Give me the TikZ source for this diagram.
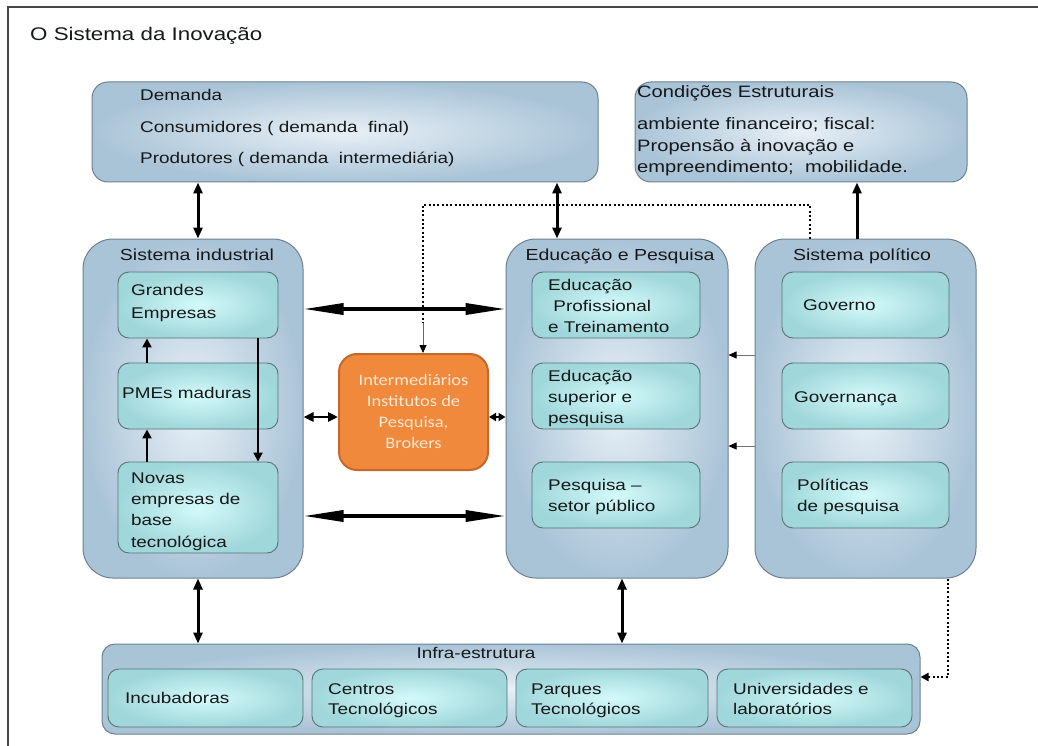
\documentclass[tikz,border=0pt]{standalone}
\usepackage{fontspec}
\usetikzlibrary{arrows.meta}
\newfontfamily\arw[FakeStretch=1.22]{Liberation Sans}
\newfontfamily\calw[FakeStretch=1.15]{Carlito}
\newcommand\fz[2]{\fontsize{#1}{#2}\selectfont}
\definecolor{bgout}{RGB}{170,196,215}
\definecolor{bgin}{RGB}{232,240,246}
\definecolor{bord}{RGB}{108,128,146}
\definecolor{tout}{RGB}{160,215,218}
\definecolor{tin}{RGB}{212,250,250}
\definecolor{tbord}{RGB}{88,115,118}
\definecolor{ofill}{RGB}{240,137,60}
\definecolor{obord}{RGB}{196,104,44}
\definecolor{otext}{RGB}{253,232,212}
\definecolor{ink}{RGB}{22,24,26}
\definecolor{frame}{RGB}{70,70,70}
\begin{document}
\begin{tikzpicture}[x=1pt,y=-1pt,
  big/.style={draw=bord, line width=1pt, inner color=bgin, outer color=bgout, inner sep=0pt, rounded corners=30pt},
  bigsm/.style={draw=bord, line width=1pt, inner color=bgin, outer color=bgout, inner sep=0pt, rounded corners=16pt},
  inn/.style={draw=tbord, line width=0.9pt, inner color=tin, outer color=tout, inner sep=0pt, rounded corners=11pt},
  orng/.style={draw=obord, line width=2pt, fill=ofill, rounded corners=18pt, inner sep=0pt,
    text=otext, align=center, font=\calw\fz{16}{21}},
  lbl/.style={inner sep=0pt, align=left, text=ink, anchor=base west, font=\arw\fz{15.5}{21}},
  ttl/.style={inner sep=0pt, text=ink, anchor=base, font=\arw\fz{16}{19}},
  dbl/.style={line width=3pt, {Triangle[length=11pt,width=9pt]}-{Triangle[length=11pt,width=9pt]}},
  longdbl/.style={line width=3.5pt, {Triangle[length=40pt,width=11pt]}-{Triangle[length=40pt,width=11pt]}},
  shortdbl/.style={line width=2.5pt, {Triangle[length=10pt,width=9pt]}-{Triangle[length=10pt,width=9pt]}},
  tinydbl/.style={line width=2.5pt, {Triangle[length=7pt,width=8pt]}-{Triangle[length=7pt,width=8pt]}},
  uparr/.style={line width=2.5pt, -{Triangle[length=9pt,width=9pt]}},
  downarr/.style={line width=2pt, -{Triangle[length=9pt,width=9pt]}},
  thinarr/.style={draw=black!55, line width=0.8pt, -{Triangle[length=8pt,width=7pt,color=black]}},
  dots/.style={line width=2pt, dash pattern=on 2pt off 2.3pt}
]
\useasboundingbox (0,0) rectangle (1038,746);
\fill[white] (0,0) rectangle (1038,746);
\draw[line width=2pt, draw=frame] (8,746) -- (8,7) -- (1038,7);

\node[lbl, font=\arw\fz{18.3}{22}] (title) at (30,41) {O Sistema da Inovação};

% top boxes (base anchor = baseline of the last line)
\node[bigsm, minimum width=506pt, minimum height=100pt] (dem) at (345,132) {};
\node[lbl, font=\arw\fz{15.5}{31.5}] (demt) at (140,164) {Demanda\\Consumidores ( demanda\ \ final)\\Produtores ( demanda\ \ intermediária)};

\node[bigsm, minimum width=332pt, minimum height=100pt] (cond) at (801,132) {};
\node[lbl, font=\arw\fz{16.5}{21.5}] (condh) at (637,98) {Condições Estruturais};
\node[lbl, font=\arw\fz{16.5}{21.5}] (condt) at (637,173) {ambiente financeiro; fiscal:\\Propensão à inovação e\\empreendimento;\ \ mobilidade.};

% big columns
\node[big, minimum width=220pt, minimum height=339pt] (si) at (193,408.5) {};
\node[big, minimum width=222pt, minimum height=339pt] (ep) at (617,408.5) {};
\node[big, minimum width=221pt, minimum height=339pt] (pol) at (865.5,408.5) {};
\node[ttl] (sit) at (197,260) {Sistema industrial};
\node[ttl] (ept) at (620,260) {Educação e Pesquisa};
\node[ttl] (polt) at (862,260) {Sistema político};

% industrial inner
\node[inn, minimum width=160pt, minimum height=66pt] (gr) at (198,305) {};
\node[inn, minimum width=160pt, minimum height=66pt] (pme) at (198,396) {};
\node[inn, minimum width=160pt, minimum height=91pt] (nov) at (198,507.5) {};
\node[lbl, font=\arw\fz{15.5}{23}] (grt) at (131,318) {Grandes\\Empresas};
\node[lbl] (pmet) at (122,398) {PMEs maduras};
\node[lbl, font=\arw\fz{15.5}{21.3}] (novt) at (131,547) {Novas\\empresas de\\base\\tecnológica};

% education inner
\node[inn, minimum width=168pt, minimum height=66pt] (ep1) at (616,305) {};
\node[inn, minimum width=168pt, minimum height=66pt] (ep2) at (616,396) {};
\node[inn, minimum width=168pt, minimum height=66pt] (ep3) at (616,495) {};
\node[lbl] (ep1t) at (548,332) {Educação\\\ Profissional\\e Treinamento};
\node[lbl] (ep2t) at (548,423) {Educação\\superior e\\pesquisa};
\node[lbl] (ep3t) at (548,511) {Pesquisa –\\setor público};

% political inner
\node[inn, minimum width=167pt, minimum height=66pt] (po1) at (865.5,305) {};
\node[inn, minimum width=167pt, minimum height=66pt] (po2) at (865.5,396) {};
\node[inn, minimum width=167pt, minimum height=66pt] (po3) at (865.5,495) {};
\node[lbl] (po1t) at (803,310) {Governo};
\node[lbl] (po2t) at (794,402) {Governança};
\node[lbl] (po3t) at (797,511) {Políticas\\de pesquisa};

% intermediaries
\node[orng, minimum width=149pt, minimum height=116pt] (int) at (413.5,412) {Intermediários\\Institutos de\\Pesquisa,\\Brokers};

% infrastructure
\node[bigsm, rounded corners=13pt, minimum width=818pt, minimum height=90pt] (inf) at (511,689) {};
\node[ttl, font=\arw\fz{15.5}{19}] (inft) at (476,658) {Infra-estrutura};
\node[inn, minimum width=195pt, minimum height=58pt] (inc) at (205.5,698) {};
\node[inn, minimum width=195pt, minimum height=58pt] (cen) at (409.5,698) {};
\node[inn, minimum width=192pt, minimum height=58pt] (par) at (612,698) {};
\node[inn, minimum width=195pt, minimum height=58pt] (uni) at (814.5,698) {};
\node[lbl] (inct) at (125,703) {Incubadoras};
\node[lbl, font=\arw\fz{15.5}{20.5}] (cent) at (328,714.5) {Centros\\Tecnológicos};
\node[lbl, font=\arw\fz{15.5}{20.5}] (part) at (531,714.5) {Parques\\Tecnológicos};
\node[lbl, font=\arw\fz{15.5}{20.5}] (unit) at (733,714.5) {Universidades e\\laboratórios};

% helper coordinates
\coordinate (cA) at (198,0);
\coordinate (cB) at (557,0);
\coordinate (cC) at (857,0);
\coordinate (cD) at (622,0);
\coordinate (cE) at (147,0);
\coordinate (cF) at (258,0);
\coordinate (cG) at (810,0);
\coordinate (cH) at (423,0);
\coordinate (cI) at (948,0);
\coordinate (rA) at (0,309);
\coordinate (rB) at (0,516);
\coordinate (rC) at (0,417);
\coordinate (rD) at (0,355);
\coordinate (rE) at (0,446);
\coordinate (rF) at (0,205);
\coordinate (rG) at (0,677);
\coordinate (rH) at (0,323);

% dotted connectors
\draw[dots] (pol.north -| cG) -- (cG |- rF) -- (cH |- rF) -- (cH |- rH);
\draw[draw=black!60, line width=0.8pt, -{Triangle[length=8pt,width=7pt,color=black]}] (cH |- rH) -- (int.north -| cH);
\draw[dots, -{Triangle[length=8pt,width=8pt]}] (pol.south -| cI) -- (cI |- rG) -- (inf.east |- rG);

% vertical connectors
\draw[dbl] (dem.south -| cA) -- (si.north -| cA);
\draw[dbl] (dem.south -| cB) -- (ep.north -| cB);
\draw[line width=3pt, -{Triangle[length=11pt,width=9pt]}] (pol.north -| cC) -- (cond.south -| cC);
\draw[dbl] (si.south -| cA) -- (inf.north -| cA);
\draw[dbl] (ep.south -| cD) -- (inf.north -| cD);

% horizontal connectors
\draw[longdbl] (si.east |- rA) -- (ep.west |- rA);
\draw[longdbl] (si.east |- rB) -- (ep.west |- rB);
\draw[shortdbl] (si.east |- rC) -- (int.west |- rC);
\draw[tinydbl] (int.east |- rC) -- (ep.west |- rC);
\draw[thinarr] (pol.west |- rD) -- (ep.east |- rD);
\draw[thinarr] (pol.west |- rE) -- (ep.east |- rE);

% inner industrial connectors
\draw[uparr] (pme.north -| cE) -- (gr.south -| cE);
\draw[uparr] (nov.north -| cE) -- (pme.south -| cE);
\draw[downarr] (gr.south -| cF) -- (nov.north -| cF);
\end{tikzpicture}
\end{document}
